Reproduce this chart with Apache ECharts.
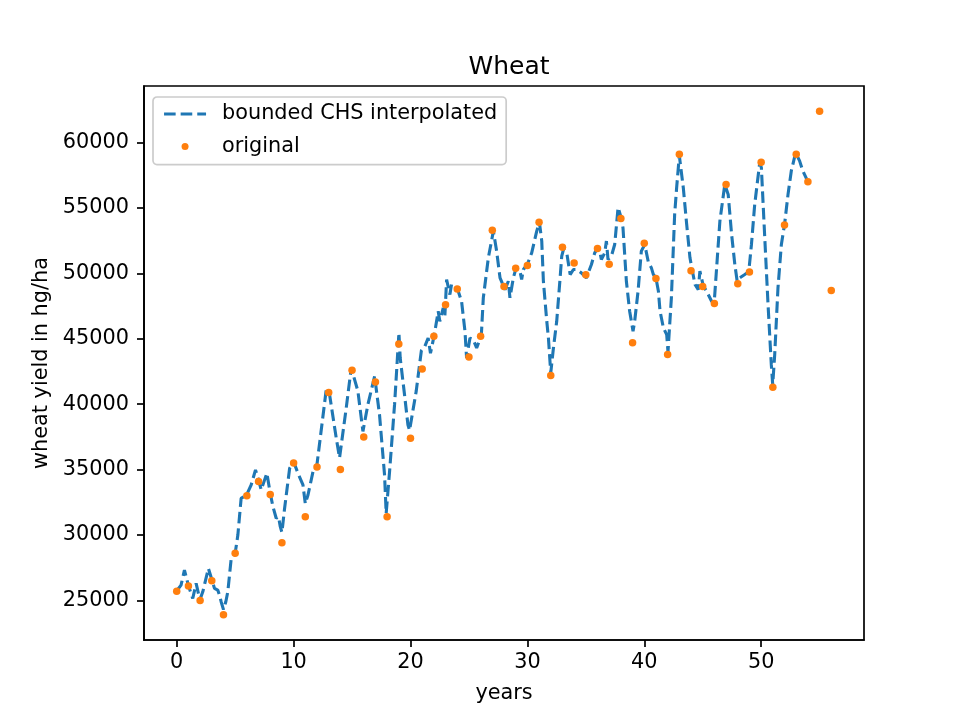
<!DOCTYPE html>
<html>
<head>
<meta charset="utf-8">
<script src="https://cdn.jsdelivr.net/npm/echarts@6/dist/echarts.min.js"></script>
<style>html,body{margin:0;padding:0;background:#fff}#c{width:960px;height:720px}</style>
</head>
<body>
<div id="c"></div>
<script>
const chartTitle = 'Wheat';
const xName = 'years';
const yName = 'wheat yield in hg/ha';
const lineName = 'bounded CHS interpolated';
const dotName = 'original';
const xTicks = [0, 10, 20, 30, 40, 50];
const yTicks = [25000, 30000, 35000, 40000, 45000, 50000, 55000, 60000];

const origYears = [0,1,2,3,4,5,6,7,8,9,10,11,12,13,14,15,16,17,18,19,20,21,22,23,24,25,26,27,28,29,30,31,32,33,34,35,36,37,38,39,40,41,42,43,44,45,46,47,48,49,50,51,52,53,54,55,56];
const origValues = [25700,26100,25000,26500,23900,28600,33000,34100,33100,29400,35500,31400,35200,40900,35000,42600,37500,41700,31400,44600,37400,42700,45200,47600,48800,43600,45200,53300,49000,50400,50600,53900,42200,52000,50800,49900,51900,50700,54200,44700,52300,49600,43800,59100,50200,49000,47700,56800,49200,50100,58500,41300,53700,59100,57000,62400,48700];

const curvePoints = [
[0,25740],[0.37,26170],[0.66,27320],[1,26130],[1.37,25150],[1.66,26300],[1.89,25400],[2,25100],[2.23,25660],[2.71,27450],
[3,26600],[3.23,25920],[3.51,25790],[3.66,25400],[3.8,24900],[4,24300],[4.2,24900],[4.37,25660],[4.66,28200],[5,28600],
[5.23,30000],[5.51,32800],[6,33100],[6.37,33830],[6.74,34980],[7,34200],[7.23,33450],[7.71,34730],[8,33200],[8.23,32180],
[8.51,31280],[8.71,31400],[8.86,30640],[9,30200],[9.23,32050],[9.66,35100],[10,35600],[10.37,34730],[10.51,34600],[10.8,33830],
[11,32400],[11.23,33060],[11.66,34850],[12,35400],[12.79,41100],[13.08,40720],[13.65,37400],[13.93,35900],[14.5,39700],[14.93,42770],
[15.5,41000],[15.93,37920],[16.36,40000],[16.93,42130],[17.35,39200],[17.78,34600],[17.92,31660],[18.21,34850],[18.64,40000],[19.01,45450],
[19.12,43530],[19.49,40720],[19.78,38420],[19.92,38000],[20.49,41000],[20.93,44100],[21.23,44430],[21.51,45060],[21.71,43900],[22.03,45270],
[22.37,47100],[22.51,46340],[22.8,47360],[22.94,46730],[23.09,49530],[23.37,48380],[23.51,49150],[24,48870],[24.37,47870],[24.66,45580],
[24.8,43530],[25.09,45060],[25.37,44930],[25.66,44300],[26.06,45270],[26.23,48130],[26.66,51190],[27.09,53230],[27.37,51700],[27.66,49660],
[28.09,48760],[28.37,49400],[28.51,48130],[28.8,49660],[29.06,50480],[29.37,50170],[29.51,49530],[29.66,50300],[30,50700],[30.37,51570],
[30.8,53230],[31.03,53900],[31.23,52470],[31.37,49400],[31.66,46340],[31.8,45060],[32,42400],[32.23,44300],[32.51,46340],[32.8,49660],
[32.94,51320],[33.09,51830],[33.37,51570],[33.66,49910],[33.94,50300],[34.19,50300],[34.62,50040],[35.05,49660],[35.48,50680],[35.76,51570],
[36.05,52000],[36.19,51700],[36.33,51060],[36.62,51570],[36.76,52470],[36.9,51060],[37.19,51320],[37.47,52210],[37.76,55030],[38.01,54300],
[38.18,53490],[38.47,49400],[38.75,47110],[39.04,45580],[39.18,46340],[39.47,48640],[39.75,51700],[40.04,52210],[40.34,50900],[40.61,50420],
[40.78,49910],[41,49660],[41.21,48640],[41.35,47110],[41.64,45830],[41.92,45320],[42.03,44000],[42.32,48130],[42.6,54510],[42.77,56550],
[43,59000],[43.34,56550],[43.63,53740],[43.91,51190],[44.34,49150],[44.62,48760],[44.76,50170],[45.05,49050],[45.33,48640],[45.76,47870],
[45.98,47720],[46.47,54000],[46.89,56800],[47.18,56040],[47.47,53000],[47.75,50680],[47.95,49400],[48.17,49660],[48.6,49910],[48.94,50120],
[49.17,52210],[49.45,55270],[49.88,58470],[50.02,58080],[50.31,52720],[50.59,47620],[50.87,43020],[50.99,41490],[51.16,43780],[51.44,48890],
[51.73,52210],[52.01,53790],[52.3,56040],[52.58,57830],[52.95,59230],[53.29,58600],[53.57,57830],[54,57010]
];

const origPoints = origYears.map((y, i) => [y, origValues[i]]);
const font = 'DejaVu Sans';
const chart = echarts.init(document.getElementById('c'), null, {renderer: 'canvas'});
chart.setOption({
  animation: false,
  backgroundColor: '#ffffff',
  title: {
    text: chartTitle, left: 504, top: 50, textAlign: 'center',
    textStyle: {fontFamily: font, fontSize: 25, fontWeight: 'normal', color: '#000'}
  },
  grid: {left: 144, right: 96, top: 86, bottom: 80, show: true, borderColor: '#000', borderWidth: 1.7, backgroundColor: 'transparent'},
  legend: {
    orient: 'vertical', left: 153, top: 97,
    padding: [5, 9, 6, 9.5], itemGap: 8.6, itemWidth: 42, itemHeight: 7,
    backgroundColor: 'rgba(255,255,255,0.8)', borderColor: '#cccccc', borderWidth: 1.7, borderRadius: 4,
    textStyle: {fontFamily: font, fontSize: 20.8, color: '#000', lineHeight: 24, padding: [0, 0, 0, 11]},
    lineStyle: {width: 3.1, type: [11.6, 5], color: '#1f77b4'},
    data: [
      {name: lineName, itemStyle: {opacity: 0, color: 'rgba(0,0,0,0)', borderWidth: 0}},
      {name: dotName, icon: 'circle'}
    ]
  },
  xAxis: {
    type: 'value', min: -2.8, max: 58.8,
    name: xName, nameLocation: 'middle', nameGap: 43,
    nameTextStyle: {fontFamily: font, fontSize: 20.8, color: '#000'},
    axisLine: {show: true, onZero: false, lineStyle: {color: '#000', width: 1.7}},
    axisTick: {show: true, length: 7, inside: false, lineStyle: {color: '#000', width: 1.7}, customValues: xTicks},
    axisLabel: {fontFamily: font, fontSize: 20.8, color: '#000', margin: 12, customValues: xTicks, formatter: v => String(v)},
    splitLine: {show: false}
  },
  yAxis: {
    type: 'value', min: 21975, max: 64325,
    name: yName, nameLocation: 'middle', nameGap: 76, nameRotate: 90,
    nameTextStyle: {fontFamily: font, fontSize: 20.8, color: '#000'},
    axisLine: {show: true, onZero: false, lineStyle: {color: '#000', width: 1.7}},
    axisTick: {show: true, length: 7, inside: false, lineStyle: {color: '#000', width: 1.7}, customValues: yTicks},
    axisLabel: {fontFamily: font, fontSize: 20.8, color: '#000', margin: 15, padding: [3, 0, 0, 0], customValues: yTicks, formatter: v => String(v)},
    splitLine: {show: false}
  },
  series: [
    {
      name: lineName, type: 'line', data: curvePoints, symbol: 'none', showSymbol: false,
      lineStyle: {color: '#1f77b4', width: 3.1, type: [11.6, 5], cap: 'butt'},
      itemStyle: {color: '#1f77b4'}, z: 2
    },
    {
      name: dotName, type: 'scatter', data: origPoints, symbol: 'circle', symbolSize: 7.5,
      itemStyle: {color: '#ff7f0e', opacity: 1}, z: 3
    }
  ]
});
</script>
</body>
</html>
